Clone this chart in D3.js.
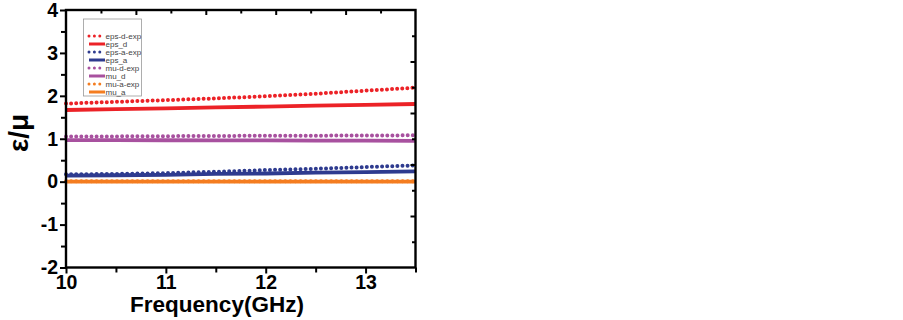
<!DOCTYPE html>
<html><head><meta charset="utf-8">
<script src="https://cdn.jsdelivr.net/npm/d3@7"></script>
<style>body{margin:0;background:#fff}svg{display:block}text{font-family:"Liberation Sans",Arial,sans-serif}</style>
</head><body>
<script>
const freq = [10, 10.5, 11, 11.5, 12, 12.5, 13, 13.5];
const epsDExp = [1.82, 1.86, 1.90, 1.94, 1.99, 2.05, 2.12, 2.19];
const epsD    = [1.67, 1.69, 1.71, 1.73, 1.75, 1.77, 1.79, 1.81];
const epsAExp = [0.17, 0.18, 0.20, 0.23, 0.27, 0.30, 0.34, 0.38];
const epsA    = [0.14, 0.15, 0.16, 0.18, 0.19, 0.21, 0.22, 0.24];
const muDExp  = [1.05, 1.055, 1.06, 1.065, 1.07, 1.072, 1.075, 1.08];
const muD     = [0.97, 0.968, 0.965, 0.962, 0.96, 0.957, 0.955, 0.952];
const muAExp  = [0.01, 0.01, 0.01, 0.01, 0.01, 0.01, 0.01, 0.01];
const muA     = [0.0, 0.0, 0.0, 0.0, 0.0, 0.0, 0.0, 0.0];
const seriesNames = ["eps-d-exp","eps_d","eps-a-exp","eps_a","mu-d-exp","mu_d","mu-a-exp","mu_a"];
const seriesData = [epsDExp, epsD, epsAExp, epsA, muDExp, muD, muAExp, muA];
const seriesColors = ["#ec2227","#ec2227","#2e3b8f","#2e3b8f","#a8519f","#a8519f","#f47d20","#f47d20"];
const seriesDotted = [true,false,true,false,true,false,true,false];
const xTicks = [10, 11, 12, 13];
const yTicks = [-2, -1, 0, 1, 2, 3, 4];
const xLabel = "Frequency(GHz)";
const yLabel = "ε/μ";

const W = 903, H = 320;
const L = 66, R = 415.5, T = 10, B = 267.5;
const svg = d3.select("body").append("svg").attr("width", W).attr("height", H);
const x = d3.scaleLinear().domain([10, 13.5]).range([L, R]);
const y = d3.scaleLinear().domain([-2, 4]).range([B, T]);
const xTop = d3.scaleLinear().domain([0, 10]).range([L, R]);
const yRight = d3.scaleLinear().domain([0, 10]).range([T, B]);

const line = d3.line().x((d,i)=>x(freq[i])).y(d=>y(d));
const order = [7,6,5,4,3,2,1,0];
order.forEach(k=>{
  const p = svg.append("path").datum(seriesData[k]).attr("d", line)
    .attr("fill","none").attr("stroke", seriesColors[k]);
  if (seriesDotted[k]) p.attr("stroke-width",4).attr("stroke-dasharray","0,5.1").attr("stroke-linecap","round");
  else p.attr("stroke-width",3.8);
});

// frame
svg.append("rect").attr("x",L).attr("y",T).attr("width",R-L).attr("height",B-T)
  .attr("fill","none").attr("stroke","#000").attr("stroke-width",2.4);

// bottom axis
const gx = svg.append("g").attr("transform",`translate(0,${B})`)
  .call(d3.axisBottom(x).tickValues(d3.range(10,13.51,0.5)).tickSize(6).tickFormat(d=> xTicks.includes(d)? d3.format("d")(d):""));
gx.select(".domain").remove();
gx.selectAll(".tick line").attr("stroke","#000").attr("stroke-width",2).attr("y2",d=>Number.isInteger(d)?6:5);
gx.selectAll(".tick text").attr("font-size",19.5).attr("font-weight","bold").attr("fill","#000").attr("y",21).attr("dy",0)
  .attr("font-family","'Liberation Sans',Arial,sans-serif");

// left axis
const gy = svg.append("g").attr("transform",`translate(${L},0)`)
  .call(d3.axisLeft(y).tickValues(d3.range(-2,4.01,0.5)).tickSize(6).tickFormat(d=> yTicks.includes(d)? d3.format("d")(d).replace("−","-"):""));
gy.select(".domain").remove();
gy.selectAll(".tick line").attr("stroke","#000").attr("stroke-width",2).attr("x2",d=>Number.isInteger(d)?-6:-5);
gy.selectAll(".tick text").attr("font-size",19.5).attr("font-weight","bold").attr("fill","#000").attr("x",-8)
  .attr("font-family","'Liberation Sans',Arial,sans-serif");

// top mirror ticks (inward)
const gt = svg.append("g").attr("transform",`translate(0,${T})`)
  .call(d3.axisBottom(xTop).tickValues(d3.range(1,10)).tickSize(4).tickFormat(""));
gt.select(".domain").remove();
gt.selectAll(".tick line").attr("stroke","#000").attr("stroke-width",2).attr("y2",d=>d%2===0?5:3.5);

// right mirror ticks (inward)
const gr = svg.append("g").attr("transform",`translate(${R},0)`)
  .call(d3.axisLeft(yRight).tickValues(d3.range(1,10)).tickSize(4).tickFormat(""));
gr.select(".domain").remove();
gr.selectAll(".tick line").attr("stroke","#000").attr("stroke-width",2).attr("x2",d=>d%2===0?-5:-3.5);

// axis labels
svg.append("text").attr("x",217).attr("y",312).attr("text-anchor","middle")
  .attr("font-size",22.5).attr("font-weight","bold").attr("fill","#000").text(xLabel);
svg.append("text").attr("transform","translate(28,133) rotate(-90)").attr("text-anchor","middle")
  .attr("font-size",28).attr("font-weight","bold").attr("fill","#000").text(yLabel);

// legend
const lg = svg.append("g");
lg.append("rect").attr("x",83.5).attr("y",19).attr("width",58).attr("height",77)
  .attr("fill","#fff").attr("stroke","#999").attr("stroke-width",0.8);
seriesNames.forEach((name,i)=>{
  const yy = 36 + i*8;
  const ln = lg.append("line").attr("x1",89).attr("x2",seriesDotted[i]?101:105).attr("y1",yy).attr("y2",yy)
    .attr("stroke",seriesColors[i]);
  if (seriesDotted[i]) ln.attr("stroke-width",3).attr("stroke-dasharray","0,5.4").attr("stroke-linecap","round");
  else ln.attr("stroke-width",3);
  lg.append("text").attr("x",105.5).attr("y",yy).attr("dy","0.35em")
    .attr("font-size",8).attr("fill","#444").text(name);
});
</script>
</body></html>
